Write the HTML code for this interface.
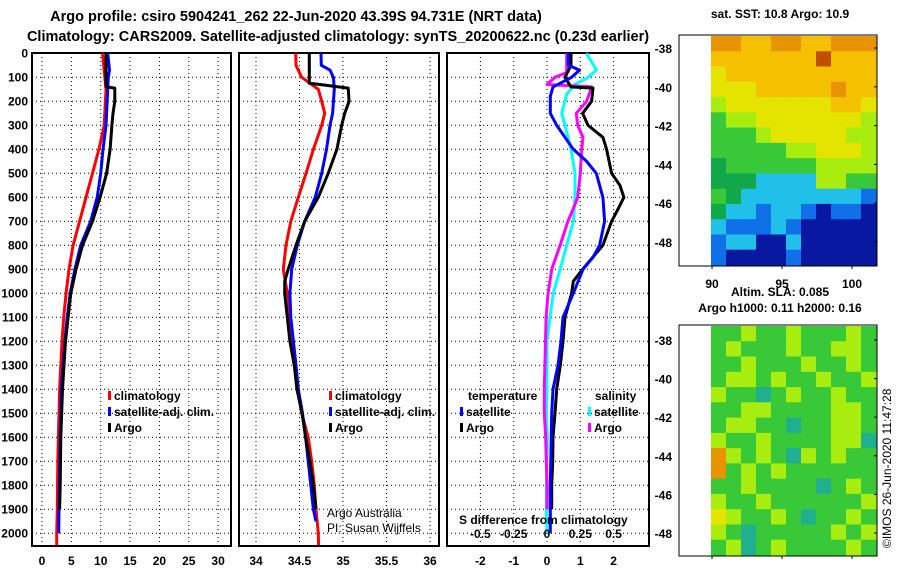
<!DOCTYPE html>
<html><head><meta charset="utf-8"><style>
body{margin:0;background:#fff}
svg{display:block;font-family:"Liberation Sans",sans-serif}
.t{font-weight:bold;font-size:12px}
.ti{font-weight:bold;font-size:14.5px}
</style></head><body>
<svg id="c" width="900" height="580" viewBox="0 0 900 580" xmlns="http://www.w3.org/2000/svg">
<text class="ti" x="296" y="21" text-anchor="middle">Argo profile: csiro 5904241_262 22-Jun-2020 43.39S 94.731E (NRT data)</text>
<text class="ti" x="338" y="41" text-anchor="middle">Climatology: CARS2009. Satellite-adjusted climatology: synTS_20200622.nc (0.23d earlier)</text>
<g id="g"></g>
<text class="t" x="780" y="18" text-anchor="middle">sat. SST: 10.8 Argo: 10.9</text>
<text class="t" x="780" y="296" text-anchor="middle">Altim. SLA: 0.085</text>
<text class="t" x="780" y="312" text-anchor="middle">Argo h1000: 0.11 h2000: 0.16</text>
<text x="891" y="548" font-size="12" transform="rotate(-90 891 548)">©IMOS 26-Jun-2020 11:47:28</text>
<text x="327" y="517" font-size="12">Argo Australia</text>
<text x="327" y="532" font-size="12">PI: Susan Wijffels</text>
</svg>
<script>
const depthTicks=[0,100,200,300,400,500,600,700,800,900,1000,1100,1200,1300,1400,1500,1600,1700,1800,1900,2000];
const tTicks=[0,5,10,15,20,25,30];
const sTicks=[34,34.5,35,35.5,36];
const dTicks=[-2,-1,0,1,2];
const dsTicks=["-0.5","-0.25","0","0.25","0.5"];
// temperature
const tClimD=[0,150,300,400,500,600,700,800,900,1000,1100,1200,1300,1400,1500,1700,1900,2000,2050];
const tClim=[10.3,10.9,10.6,9.7,8.6,7.5,6.4,5.3,4.6,4.1,3.7,3.4,3.2,3.0,2.9,2.7,2.6,2.5,2.5];
const tSatD=[0,70,100,300,400,500,600,700,800,900,1000,1100,1200,1300,1400,1500,1600,1800,2000];
const tSat=[11.2,11.5,11.3,10.9,10.4,10.0,9.4,8.3,6.6,5.6,4.8,4.3,3.9,3.6,3.3,3.2,3.1,2.95,2.85];
const tArgoD=[0,140,145,200,250,300,400,500,600,700,800,900,1000,1200,1400,1600,1800,1900];
const tArgo=[10.9,10.9,12.4,12.4,12.1,11.9,11.6,11.0,9.9,8.6,6.9,5.8,4.9,4.0,3.5,3.2,3.1,3.0];
// salinity
const sClimD=[0,50,100,150,200,250,300,400,500,600,700,800,900,1000,1100,1200,1300,1400,1500,1600,1700,1800,1900,2000,2050];
const sClim=[34.456,34.46,34.525,34.716,34.755,34.79,34.755,34.66,34.575,34.486,34.40,34.345,34.314,34.36,34.38,34.41,34.45,34.48,34.525,34.6,34.64,34.67,34.69,34.716,34.72];
const sSatD=[0,50,70,100,150,250,300,400,500,600,700,800,900,1000,1100,1200,1300,1400,1500,1600,1700,1800,1900,1950];
const sSat=[34.747,34.75,34.85,34.89,34.9,34.88,34.85,34.81,34.755,34.68,34.56,34.475,34.41,34.39,34.40,34.43,34.46,34.486,34.535,34.57,34.6,34.63,34.66,34.69];
const sArgoD=[0,125,130,145,200,250,300,400,500,600,700,800,900,950,1000,1100,1200,1300,1400,1500,1600,1700,1800,1900];
const sArgo=[34.613,34.613,34.735,35.06,35.07,35.02,34.985,34.93,34.83,34.716,34.56,34.46,34.37,34.33,34.33,34.36,34.39,34.44,34.47,34.53,34.57,34.62,34.66,34.69];
// differences
const dTArgoD=[0,50,100,140,145,200,250,300,350,400,500,550,600,650,700,800,900,950,1000,1100,1200,1300,1400,1500,1600,1700,1800,1900];
const dTArgo=[0.72,0.72,0.54,0.72,1.38,1.34,1.07,1.23,1.68,1.79,1.94,2.19,2.31,2.13,1.94,1.68,1.07,0.79,0.74,0.54,0.48,0.4,0.29,0.24,0.18,0.17,0.14,0.14];
const dTSatD=[0,50,70,100,140,180,250,300,350,400,450,500,600,700,800,850,900,1000,1100,1200,1300,1400,1500,1600,1800,2000];
const dTSat=[0.64,0.64,0.98,0.74,0.18,0.1,0.1,0.29,0.54,0.79,1.19,1.48,1.68,1.73,1.58,1.38,1.08,0.79,0.48,0.42,0.33,0.18,0.14,0.13,0.1,0.1];
const dSSatD=[0,70,100,130,170,250,300,400,500,600,700,800,900,1000,1100,1200,1400,1500,1600,1700,1800,1900,2000];
const dSSat=[0.297,0.37,0.31,0.21,0.148,0.11,0.135,0.18,0.21,0.21,0.197,0.148,0.098,0.047,0.022,0.0,0.0,-0.005,0.002,0.0,-0.005,-0.005,0.0];
const dSArgoD=[0,80,100,130,140,200,250,300,350,400,500,600,650,700,800,900,1000,1100,1400,1500,1600,1700,1800,1900];
const dSArgo=[0.148,0.148,0.06,0.0,0.335,0.297,0.22,0.23,0.27,0.26,0.25,0.23,0.195,0.157,0.098,0.035,0.008,-0.007,-0.02,-0.02,-0.01,-0.005,0.0,0.0];
// maps
const sstGrid=["OOooOOooOOO","oooooooRooo","Yoooooooooo","YYYoooooOoo","LYYYYYYYooY","GLLYYYYYYYL","GGGLYYYYYLL","GGGGGLLYYYL","gGGGGGGLLLL","gggCCCCLLGG","GgCCCCCCCCB","gCCBCCBNBBN","CBBBCBNNNNN","BCCNNCNNNNN","BNNNNBNNNNN"];
const slaGrid=["GGLGGLGGGLG","GLGGGLGGLLG","GGLGGGLGGLG","GLLGLGGLGGL","LGGTGLGGLGG","GGLLGGGGLLG","GLLGGTGGLLG","LGGLGGGGLLT","OLGLGTLGLGG","OGLGLGGGGGG","GGLGGGGTGLG","LGGLGGGGGGL","YLGGLGTGGLG","LGTGGGGGLGL","GLTGLGGGGLG"];
const sstLat=[-38,-40,-42,-44,-46,-48];
const lonTicks=[90,95,100];

const NS="http://www.w3.org/2000/svg";
const G=document.getElementById('g');
function mk(tag,at,parent){const e=document.createElementNS(NS,tag);for(const k in at)e.setAttribute(k,at[k]);(parent||G).appendChild(e);return e;}
const yD=d=>53.3+d*0.24;
const TOP=53,BOT=546;
const panels=[
 {name:'temperature',l:32,r:231,x:v=>42+v*5.87,ticks:tTicks},
 {name:'salinity',l:239,r:439,x:v=>256+(v-34)*87,ticks:sTicks},
 {name:'difference',l:447,r:649,x:v=>547+v*33.3,ticks:dTicks}
];
panels.forEach((p,pi)=>{
 const g=mk('g',{});
 
 
 depthTicks.forEach(d=>{
  const gl=mk('line',{x1:p.l,x2:p.r,y1:yD(d),y2:yD(d),stroke:'#000','stroke-width':1,'stroke-dasharray':'1 3'},g);
  
  
 });
 p.ticks.forEach(v=>{
  const x=p.x(v);
  const gl=mk('line',{x1:x,x2:x,y1:TOP,y2:BOT,stroke:'#000','stroke-width':1,'stroke-dasharray':'1 3'},g);
  
  
  const t=mk('text',{x:x,y:565,'text-anchor':'middle','class':'t'},g);
  t.textContent=String(v);
  
  
 });
 const fr=mk('path',{d:`M${p.l} ${TOP}H${p.r}V${BOT}H${p.l}Z`,fill:'none',stroke:'#000','stroke-width':2},g);
 
 
 p.g=g;
});
depthTicks.forEach(d=>{
 const t=mk('text',{x:28,y:yD(d)+4,'text-anchor':'end','class':'t'});
 t.textContent=String(d);
 
 
});
function line(p,ds,vs,col,name){
 const pts=ds.map((d,i)=>p.x(vs[i]).toFixed(1)+','+yD(d).toFixed(1)).join(' ');
 const e=mk('polyline',{points:pts,fill:'none',stroke:col,'stroke-width':3,'stroke-linejoin':'round'},p.g);
 
 
}
const [P1,P2,P3]=panels;
line(P1,tClimD,tClim,'#f00','temp-climatology-line');
line(P1,tSatD,tSat,'#00f','temp-satellite-line');
line(P1,tArgoD,tArgo,'#000','temp-argo-line');
line(P2,sClimD,sClim,'#f00','sal-climatology-line');
line(P2,sSatD,sSat,'#00f','sal-satellite-line');
line(P2,sArgoD,sArgo,'#000','sal-argo-line');
const P3s={x:v=>547+v*133.3,g:P3.g};
line(P3s,dSSatD,dSSat,'#0ff','sdiff-satellite-line');
line(P3s,dSArgoD,dSArgo,'#f0f','sdiff-argo-line');
line(P3,dTArgoD,dTArgo,'#000','tdiff-argo-line');
line(P3,dTSatD,dTSat,'#00f','tdiff-satellite-line');
dsTicks.forEach((s,i)=>{
 const t=mk('text',{x:P3.x(dTicks[i]),y:538,'text-anchor':'middle','class':'t'});
 t.textContent=s;
 
 
});
const st=mk('text',{x:459,y:524,'class':'t'});
st.textContent='S difference from climatology';


function leg(x,y,col,label){
 const r=mk('rect',{x:x,y:y-9,width:3,height:9,fill:col});
 
 
 const t=mk('text',{x:x+6,y:y,'class':'t'});
 t.textContent=label;
 
 
}
[108,329].forEach(x=>{
 leg(x,400,'#f00','climatology');leg(x,416,'#00f','satellite-adj. clim.');leg(x,432,'#000','Argo');
});
const th=mk('text',{x:468,y:400,'class':'t'});th.textContent='temperature';


const sh=mk('text',{x:595,y:400,'class':'t'});sh.textContent='salinity';


leg(460,416,'#00f','satellite');leg(460,432,'#000','Argo');
leg(588,416,'#0ff','satellite');leg(588,432,'#f0f','Argo');
// maps
const COL={O:'#e89400',o:'#f4c000',R:'#c05000',Y:'#e4e400',L:'#a8ec10',G:'#38c838',g:'#10a848',C:'#20c0e8',B:'#1070e8',N:'#0818a0',T:'#20b090'};
function map(grid,top,bot,name,latY0,latY1){
 const g=mk('g',{});
 
 
 const x0=711,x1=876,cw=(x1-x0)/11,ch=(bot-top)/grid.length;
 grid.forEach((row,r)=>{[...row].forEach((c,k)=>{
  mk('rect',{x:(x0+k*cw).toFixed(1),y:(top+r*ch).toFixed(1),width:(cw+0.6).toFixed(1),height:(ch+0.6).toFixed(1),fill:COL[c]},g);
 });});
 const fr=mk('path',{d:`M679 ${top-1}H877V${bot+1}H679Z`,fill:'none',stroke:'#000','stroke-width':1},g);
 
 
 sstLat.forEach((v,i)=>{
  const y=latY0+(latY1-latY0)*i/5;
  mk('line',{x1:874,x2:877,y1:y,y2:y,stroke:'#000'},g);
  const t=mk('text',{x:672,y:y+5,'text-anchor':'end','class':'t','font-size':'13'},g);
  t.textContent=String(v);
  
  
 });
 lonTicks.forEach(v=>{
  const x=712+(852-712)*(v-90)/10;
  mk('line',{x1:x,x2:x,y1:bot+1,y2:bot+4,stroke:'#000'},g);
 });
}
map(sstGrid,36,265,'sst-map',48,242);
map(slaGrid,326,555,'sla-map',340,533);
lonTicks.forEach(v=>{
 const x=712+(852-712)*(v-90)/10;
 const t=mk('text',{x:x,y:288,'text-anchor':'middle','class':'t','font-size':'13'});
 t.textContent=String(v);
 
 
});
</script>
</body></html>
